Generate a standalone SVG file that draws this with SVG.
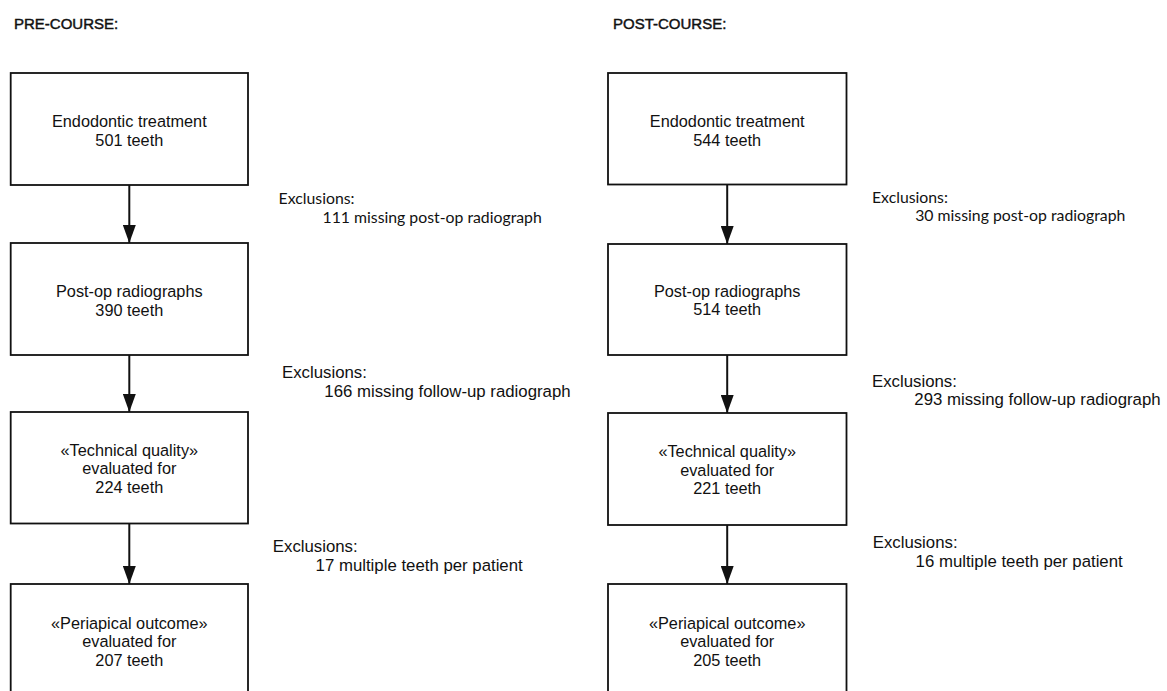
<svg xmlns="http://www.w3.org/2000/svg" width="1167" height="691" viewBox="0 0 1167 691">
<style>
  .box { fill: #ffffff; stroke: #111111; stroke-width: 1.8; }
  .bt { font-family: "Liberation Sans", Arial, sans-serif; font-size: 16.3px; fill: #111111; text-anchor: middle; }
  .hd { font-family: "Liberation Sans", Arial, sans-serif; font-size: 15px; fill: #111111; stroke: #111111; stroke-width: 0.45; }
  .ex { font-family: "Liberation Sans", Arial, sans-serif; font-size: 16.8px; fill: #111111; }
  .exc { font-family: Lato, "Open Sans", sans-serif; font-size: 15.8px; fill: #111111; }
  .conn { stroke: #111111; stroke-width: 2; fill: none; }
</style>
<defs>
  <marker id="arrow" viewBox="0 0 18 13" refX="18" refY="6.5" markerWidth="18" markerHeight="13" markerUnits="userSpaceOnUse" orient="auto">
    <path d="M0,0 L18,6.5 L0,13 Z" fill="#111111"/>
  </marker>
</defs>
<rect width="1167" height="691" fill="#ffffff"/>

<text class="hd" x="14" y="29.3">PRE-COURSE:</text>
<text class="hd" x="613" y="29.3">POST-COURSE:</text>

<g id="connectors">
  <line class="conn" x1="129.3" y1="185" x2="129.3" y2="243" marker-end="url(#arrow)"/>
  <line class="conn" x1="129.3" y1="355" x2="129.3" y2="412" marker-end="url(#arrow)"/>
  <line class="conn" x1="129.3" y1="523.5" x2="129.3" y2="584" marker-end="url(#arrow)"/>
  <line class="conn" x1="727.2" y1="184.5" x2="727.2" y2="244" marker-end="url(#arrow)"/>
  <line class="conn" x1="727.2" y1="355" x2="727.2" y2="413" marker-end="url(#arrow)"/>
  <line class="conn" x1="727.2" y1="525" x2="727.2" y2="584" marker-end="url(#arrow)"/>
</g>

<g id="pre-endo">
  <rect class="box" x="10.7" y="73" width="237.3" height="112"/>
  <text class="bt" x="129.3" y="126.7">Endodontic treatment</text>
  <text class="bt" x="129.3" y="145.7">501 teeth</text>
</g>
<g id="pre-postop">
  <rect class="box" x="10.7" y="243" width="237.3" height="112"/>
  <text class="bt" x="129.3" y="297.3">Post-op radiographs</text>
  <text class="bt" x="129.3" y="315.7">390 teeth</text>
</g>
<g id="pre-technical">
  <rect class="box" x="10.7" y="412" width="237.3" height="111.5"/>
  <text class="bt" x="129.3" y="456">«Technical quality»</text>
  <text class="bt" x="129.3" y="474.3">evaluated for</text>
  <text class="bt" x="129.3" y="492.7">224 teeth</text>
</g>
<g id="pre-periapical">
  <rect class="box" x="10.7" y="584" width="237.3" height="112"/>
  <text class="bt" x="129.3" y="629">«Periapical outcome»</text>
  <text class="bt" x="129.3" y="647.3">evaluated for</text>
  <text class="bt" x="129.3" y="666">207 teeth</text>
</g>

<g id="pre-excl-1">
  <text class="exc" x="278.6" y="203.5">Exclusions:</text>
  <text class="exc" x="322.5" y="223">111 missing post-op radiograph</text>
</g>
<g id="pre-excl-2">
  <text class="ex" x="282" y="377.7">Exclusions:</text>
  <text class="ex" x="324.3" y="396.7">166 missing follow-up radiograph</text>
</g>
<g id="pre-excl-3">
  <text class="ex" x="272.8" y="552.3">Exclusions:</text>
  <text class="ex" x="315.6" y="570.7">17 multiple teeth per patient</text>
</g>

<g id="post-endo">
  <rect class="box" x="608" y="73" width="238.5" height="111.5"/>
  <text class="bt" x="727.2" y="126.7">Endodontic treatment</text>
  <text class="bt" x="727.2" y="145.7">544 teeth</text>
</g>
<g id="post-postop">
  <rect class="box" x="608" y="244" width="238.5" height="111"/>
  <text class="bt" x="727.2" y="296.7">Post-op radiographs</text>
  <text class="bt" x="727.2" y="315">514 teeth</text>
</g>
<g id="post-technical">
  <rect class="box" x="608" y="413" width="238.5" height="112"/>
  <text class="bt" x="727.2" y="457.3">«Technical quality»</text>
  <text class="bt" x="727.2" y="476">evaluated for</text>
  <text class="bt" x="727.2" y="494.3">221 teeth</text>
</g>
<g id="post-periapical">
  <rect class="box" x="608" y="584" width="238.5" height="112"/>
  <text class="bt" x="727.2" y="629">«Periapical outcome»</text>
  <text class="bt" x="727.2" y="647.3">evaluated for</text>
  <text class="bt" x="727.2" y="666">205 teeth</text>
</g>

<g id="post-excl-1">
  <text class="exc" x="872" y="202.7">Exclusions:</text>
  <text class="exc" x="915.2" y="221">30 missing post-op radiograph</text>
</g>
<g id="post-excl-2">
  <text class="ex" x="872" y="386.7">Exclusions:</text>
  <text class="ex" x="914.3" y="405">293 missing follow-up radiograph</text>
</g>
<g id="post-excl-3">
  <text class="ex" x="872.7" y="548.3">Exclusions:</text>
  <text class="ex" x="915.6" y="566.7">16 multiple teeth per patient</text>
</g>
</svg>
